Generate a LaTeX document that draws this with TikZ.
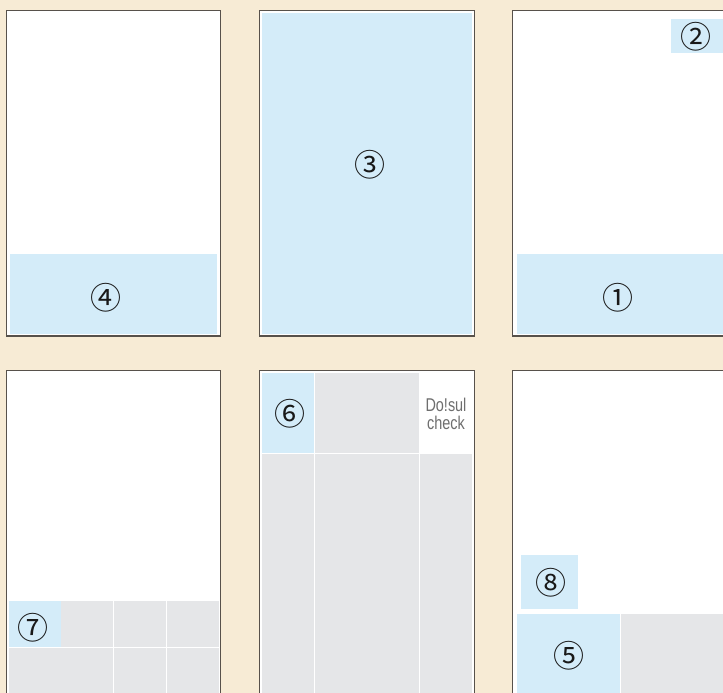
\documentclass[tikz,border=0pt]{standalone}
\usepackage{fontspec}
\newfontfamily\circfont{Noto Sans CJK JP}
\newfontfamily\narrowfont{Liberation Sans}
\definecolor{bgbeige}{HTML}{F7EBD5}
\definecolor{cellblue}{HTML}{D4ECF9}
\definecolor{cellgray}{HTML}{E5E6E8}
\definecolor{pageline}{HTML}{57514B}
\definecolor{textgray}{HTML}{6E6E6E}
\tikzset{
  page/.style={draw=pageline, line width=1.5pt, fill=white},
  bluecell/.style={fill=cellblue},
  graycell/.style={fill=cellgray},
  numlabel/.style={font=\circfont\fontsize{31}{31}\selectfont, inner sep=0pt, text=black!90, xshift=1.5pt},
  checklabel/.style={font=\narrowfont\fontsize{18.5}{18}\selectfont, text=textgray, align=center, inner sep=0pt, xscale=0.78}
}
\begin{document}
\begin{tikzpicture}[x=1pt,y=-1pt]
\useasboundingbox (0,0) rectangle (723,693);
\clip (0,0) rectangle (723,693);
\fill[bgbeige] (0,0) rectangle (723,693);
% ---------- top row ----------
\draw[page] (6.5,10.5) rectangle (220.7,336);
\fill[bluecell] (10,254) rectangle (217,333.7);
\node[numlabel] (n4) at (104,298) {④};

\draw[page] (259.3,10.5) rectangle (474.3,336);
\fill[bluecell] (262,13) rectangle (472,334);
\node[numlabel] (n3) at (368,165) {③};

\draw[page] (512.7,10.5) rectangle (740,336);
\fill[bluecell] (671,19) rectangle (723,52.7);
\fill[bluecell] (517,254) rectangle (723,334);
\node[numlabel] (n2) at (694,37) {②};
\node[numlabel] (n1) at (616,298) {①};
% ---------- bottom row ----------
\draw[page] (6.5,370.7) rectangle (220.7,710);
\fill[bluecell] (9,600.7) rectangle (61,646.7);
\fill[graycell] (61,600.7) rectangle (113,646.7);
\fill[graycell] (114,600.7) rectangle (165.7,646.7);
\fill[graycell] (166.7,600.7) rectangle (219,646.7);
\fill[graycell] (9,648) rectangle (113,700);
\fill[graycell] (114,648) rectangle (165.7,700);
\fill[graycell] (166.7,648) rectangle (219,700);
\node[numlabel] (n7) at (31,628) {⑦};

\draw[page] (259.3,370.7) rectangle (474.3,710);
\fill[bluecell] (261.7,372.5) rectangle (314,452.7);
\fill[graycell] (315,372.5) rectangle (419,452.7);
\fill[graycell] (261.7,454) rectangle (314,700);
\fill[graycell] (315,454) rectangle (419,700);
\fill[graycell] (420,454) rectangle (472.3,700);
\node[numlabel] (n6) at (288,414) {⑥};
\node[checklabel] (chk) at (446,414) {Do!sul\\check};

\draw[page] (512.7,370.7) rectangle (740,710);
\fill[bluecell] (521,555) rectangle (578,609);
\fill[bluecell] (517,614) rectangle (619.7,700);
\fill[graycell] (621,614) rectangle (723,700);
\node[numlabel] (n8) at (549,583) {⑧};
\node[numlabel] (n5) at (567,656) {⑤};
\end{tikzpicture}
\end{document}
